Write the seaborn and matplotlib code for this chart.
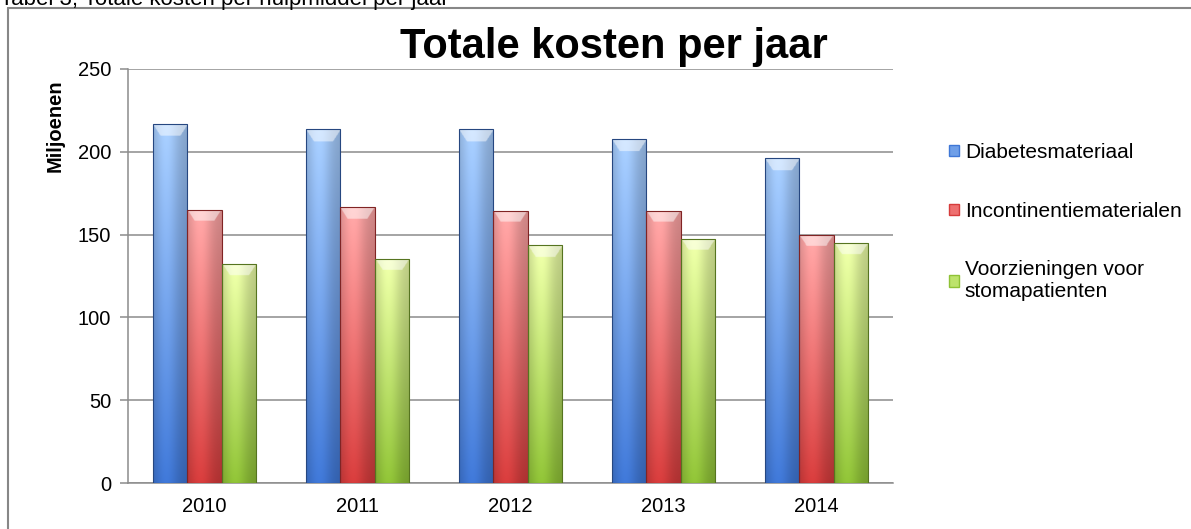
import numpy as np
import pandas as pd
import matplotlib
matplotlib.use('Agg')
import matplotlib.pyplot as plt
import seaborn as sns
from matplotlib.colors import to_rgb
from matplotlib.lines import Line2D
from matplotlib.patches import Patch

# Data (miljoenen euro)
years = ['2010', '2011', '2012', '2013', '2014']
diabetes = [216.5, 213.5, 213.5, 207.5, 196]
incontinentie = [165, 166.5, 164.5, 164.5, 150]
stoma = [132.5, 135.5, 143.5, 147.5, 145]
series = ['Diabetesmateriaal', 'Incontinentiematerialen', 'Voorzieningen voor\nstomapatienten']

# bottom / top colours for the Excel-like gradient
bottom_cols = ['#3f77d6', '#d63c3c', '#8fc236']
top_cols = ['#a8cefd', '#ffa8a8', '#eeffaa']
mid_cols = ['#6f9fe8', '#ee7070', '#bde36c']

df = pd.DataFrame({'jaar': years * 3,
                   'kosten': diabetes + incontinentie + stoma,
                   'soort': [series[0]] * 5 + [series[1]] * 5 + [series[2]] * 5})

sns.set_theme(style='white')
plt.rcParams['font.family'] = ['Liberation Sans', 'DejaVu Sans']
plt.rcParams['text.color'] = 'black'

fig = plt.figure(figsize=(11.91, 5.29), dpi=100)
ax = fig.add_axes([0.1075, 0.0869, 0.6423, 0.7827])

sns.barplot(data=df, x='jaar', y='kosten', hue='soort', hue_order=series,
            palette=mid_cols, width=0.67, gap=0, ax=ax, legend=False,
            edgecolor='none', zorder=3)

# gradient fill for every bar, clipped to the bar itself
for cont, c0, c1 in zip(ax.containers, bottom_cols, top_cols):
    c0 = np.array(to_rgb(c0))
    c1 = np.array(to_rgb(c1))
    for bar in cont:
        x, w, h = bar.get_x(), bar.get_width(), bar.get_height()
        ny, nx = 400, 80
        ty = np.linspace(0, 1, ny)[:, None]
        tx = np.linspace(0, 1, nx)[None, :]
        img = c0[None, None, :] * (1 - ty[..., None]) + c1[None, None, :] * ty[..., None]
        shade = 0.80 + 0.22 * np.exp(-((tx - 0.38) / 0.35) ** 2)
        img = np.clip(img * shade[..., None], 0, 1)
        # bevel at the top: light trapezoid
        yv = np.linspace(0, h, ny)[:, None]
        depth = np.clip((h - yv) / 7.0, 0, 1)
        face = (yv > h - 7) & (np.abs(tx - 0.5) < 0.5 - 0.22 * depth)
        face = np.broadcast_to(face, (ny, nx))
        img[face] = np.clip(img[face] * 0.5 + 0.5, 0, 1)
        im = ax.imshow(img, extent=(x, x + w, 0, h), origin='lower',
                       aspect='auto', zorder=3.5, interpolation='bilinear')
        im.set_clip_path(bar)
        bar.set_edgecolor(c0 * 0.6)
        bar.set_linewidth(0.8)
        bar.set_zorder(4)
        bar.set_facecolor('none')

ax.set_xlim(-0.5, 4.5)
ax.set_ylim(0, 250)
ax.set_yticks([0, 50, 100, 150, 200, 250])
ax.yaxis.grid(True, color='#8c8c8c', linewidth=1.1, zorder=0)
ax.set_axisbelow(True)
ax.set_xlabel('')
ax.set_ylabel('')

for s in ['top', 'right']:
    ax.spines[s].set_visible(False)
for s in ['left', 'bottom']:
    ax.spines[s].set_color('#8c8c8c')
    ax.spines[s].set_linewidth(1.1)

ax.set_xticks(np.arange(-0.5, 5, 1), minor=True)
ax.tick_params(axis='x', which='major', length=0, labelsize=14.5, pad=10, labelcolor='black')
ax.tick_params(axis='x', which='minor', length=6, width=1.1, color='#8c8c8c', direction='out')
ax.tick_params(axis='y', which='major', length=6, width=1.1, color='#8c8c8c',
               direction='out', labelsize=14.5, pad=6, labelcolor='black', left=True)

fig.text(614 / 1191, 1 - 58 / 529, 'Totale kosten per jaar', fontsize=30,
         fontweight='bold', ha='center', va='baseline', color='black')
fig.text(55 / 1191, 1 - 126 / 529, 'Miljoenen', rotation=90, fontsize=14.5,
         fontweight='bold', ha='center', va='center', color='black')

handles = [Patch(facecolor=m, edgecolor=b) for m, b in zip(mid_cols, bottom_cols)]
fig.legend(handles, series, loc='upper left', bbox_to_anchor=(0.790, 0.745),
           frameon=False, fontsize=15, handlelength=0.45, handleheight=0.45,
           handletextpad=0.3, labelspacing=1.9, borderaxespad=0)

# caption above the chart (partly cut off, as in the original) and the frame around it
fig.text(0.0, 1 - 5 / 529, 'Tabel 3, Totale kosten per hulpmiddel per jaar',
         fontsize=16, ha='left', va='baseline', color='black')
fig.add_artist(Line2D([8 / 1191, 8 / 1191], [0, 1 - 8 / 529], color='#878787', lw=1.5))
fig.add_artist(Line2D([8 / 1191, 1], [1 - 8 / 529, 1 - 8 / 529], color='#878787', lw=1.5))

fig.savefig('out.png', dpi=100)
